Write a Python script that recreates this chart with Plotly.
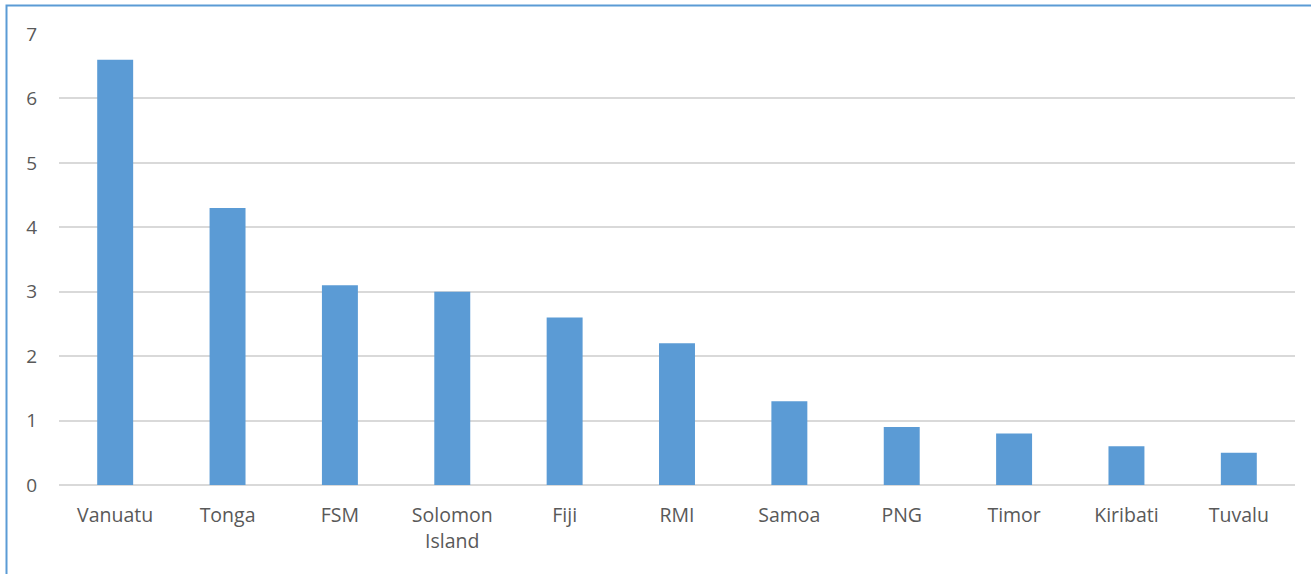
import plotly.graph_objects as go

countries = ["Vanuatu", "Tonga", "FSM", "Solomon<br>Island", "Fiji", "RMI",
             "Samoa", "PNG", "Timor", "Kiribati", "Tuvalu"]
values = [6.6, 4.3, 3.1, 3.0, 2.6, 2.2, 1.3, 0.9, 0.8, 0.6, 0.5]
y_ticks = [0, 1, 2, 3, 4, 5, 6, 7]

fig = go.Figure(go.Bar(x=countries, y=values, marker=dict(color="#5B9BD5", line=dict(width=0))))

W, H = 1311, 574
L, R, T, B = 59, 16, 34, 89
pw, ph = W - L - R, H - T - B

fig.update_layout(
    width=W, height=H,
    margin=dict(l=L, r=R, t=T, b=B),
    paper_bgcolor="white", plot_bgcolor="white",
    bargap=0.68,
    showlegend=False,
    font=dict(family="Open Sans, Liberation Sans, sans-serif", color="#595959", size=19),
    xaxis=dict(showgrid=False, showline=False, ticks="outside", ticklen=13,
               tickcolor="rgba(0,0,0,0)", tickfont=dict(size=19.5, color="#595959")),
    yaxis=dict(range=[0, 7], tickvals=y_ticks, showgrid=True, gridcolor="#D9D9D9", gridwidth=1.5,
               zeroline=True, zerolinecolor="#D9D9D9", zerolinewidth=1.5,
               ticks="outside", ticklen=17, tickcolor="rgba(0,0,0,0)",
               tickfont=dict(size=19, color="#595959")),
    shapes=[dict(type="rect", xref="paper", yref="paper",
                 x0=(6.5 - L) / pw, x1=1.1, y0=-0.4, y1=(H - B - 5.5) / ph,
                 line=dict(color="#5B9BD5", width=2), fillcolor="rgba(0,0,0,0)", layer="below")],
)

fig.write_html("out.html")
